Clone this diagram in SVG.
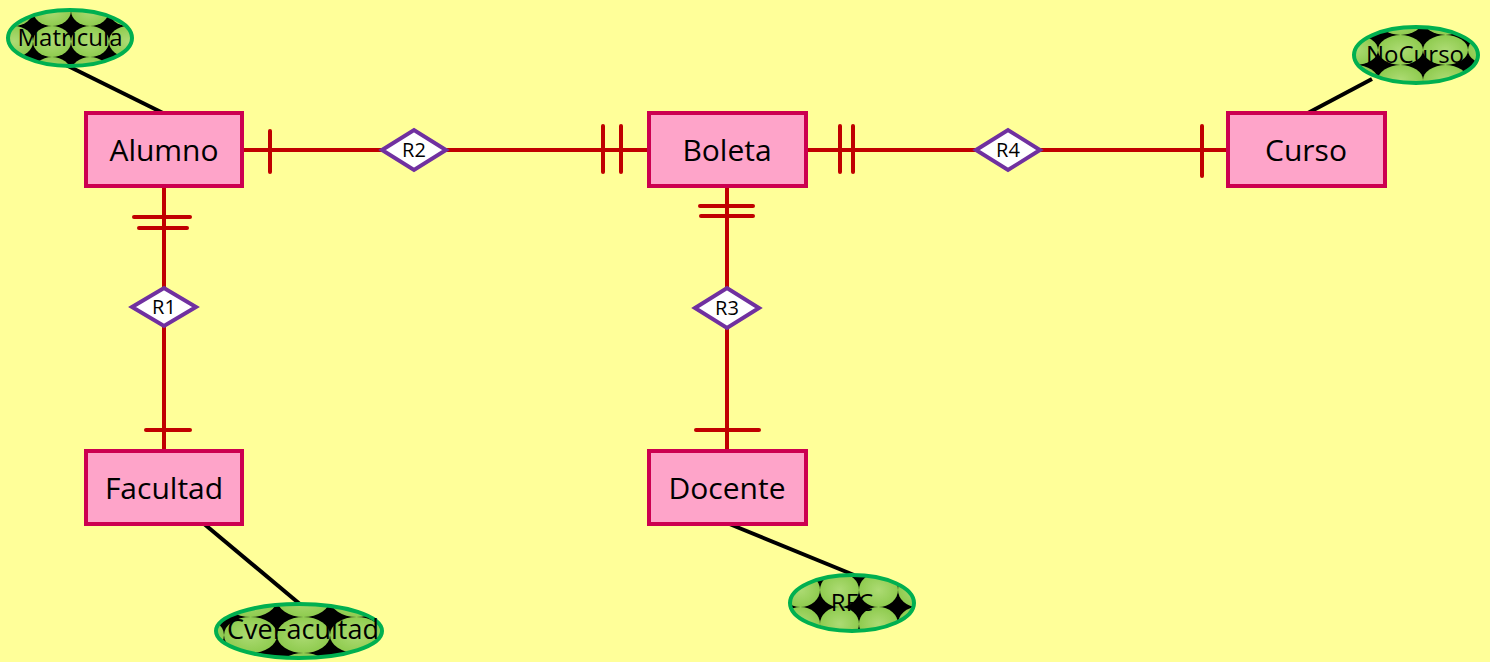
<svg xmlns="http://www.w3.org/2000/svg" width="1490" height="662" viewBox="0 0 1490 662">
<style>
.ent rect{fill:#fea4c9;stroke:#cc0050;stroke-width:4}
.ent text{font-family:"Open Sans",sans-serif;font-size:30px;fill:#000;text-anchor:middle}
.rel polygon{fill:#fff;stroke:#7030a0;stroke-width:4;stroke-linejoin:miter}
.rel text{font-family:"Open Sans",sans-serif;font-size:20px;fill:#000;text-anchor:middle}
.attr ellipse{stroke:#00b050;stroke-width:4}
.attr text{font-family:"Open Sans",sans-serif;font-size:24px;fill:#000;text-anchor:middle}
.conn line{stroke:#c00000;stroke-width:4;stroke-linecap:round}
.conn line.main{stroke-linecap:butt}
.att line{stroke:#000;stroke-width:4}
</style>
<defs>
<radialGradient id="g" cx="0.5" cy="0.5" r="0.5">
<stop offset="0" stop-color="#addb74"/>
<stop offset="1" stop-color="#8fcb4f"/>
</radialGradient>
<pattern id="pM" patternUnits="userSpaceOnUse" x="33" y="26" width="38" height="31">
<rect width="38" height="31" fill="#000"/><ellipse cx="19" cy="15.5" rx="19" ry="15.5" fill="url(#g)"/>
</pattern>
<pattern id="pN" patternUnits="userSpaceOnUse" x="1378" y="35" width="45" height="30">
<rect width="45" height="30" fill="#000"/><ellipse cx="22.5" cy="15" rx="22.5" ry="15" fill="url(#g)"/>
</pattern>
<pattern id="pC" patternUnits="userSpaceOnUse" x="224" y="617" width="53" height="36">
<rect width="53" height="36" fill="#000"/><ellipse cx="26.5" cy="18" rx="26.5" ry="18" fill="url(#g)"/>
</pattern>
<pattern id="pR" patternUnits="userSpaceOnUse" x="820" y="573" width="39" height="34">
<rect width="39" height="34" fill="#000"/><ellipse cx="19.5" cy="17" rx="19.5" ry="17" fill="url(#g)"/>
</pattern>
</defs>
<rect width="1490" height="662" fill="#ffff99"/>

<g id="attr-lines" class="att">
<line x1="66" y1="65" x2="165" y2="114"/>
<line x1="1372" y1="79" x2="1306" y2="114"/>
<line x1="203" y1="523" x2="301" y2="605"/>
<line x1="727" y1="523" x2="854" y2="575"/>
</g>

<g id="connectors" class="conn">
<line class="main" x1="242" y1="150" x2="649" y2="150"/>
<line x1="270" y1="131" x2="270" y2="172"/>
<line x1="603" y1="126" x2="603" y2="172"/>
<line x1="621" y1="126" x2="621" y2="172"/>
<line class="main" x1="806" y1="150" x2="1228" y2="150"/>
<line x1="840" y1="126" x2="840" y2="172"/>
<line x1="853" y1="126" x2="853" y2="172"/>
<line x1="1202" y1="126" x2="1202" y2="176"/>
<line class="main" x1="164" y1="186" x2="164" y2="451"/>
<line x1="134" y1="217" x2="190" y2="217"/>
<line x1="139" y1="228" x2="187" y2="228"/>
<line x1="146" y1="430" x2="190" y2="430"/>
<line class="main" x1="727" y1="186" x2="727" y2="451"/>
<line x1="700" y1="206" x2="753" y2="206"/>
<line x1="701" y1="216" x2="753" y2="216"/>
<line x1="696" y1="430" x2="759" y2="430"/>
</g>

<g id="Alumno" class="ent"><rect x="86" y="113" width="156" height="73"/><text x="164" y="161">Alumno</text></g>
<g id="Boleta" class="ent"><rect x="649" y="113" width="157" height="73"/><text x="727" y="161">Boleta</text></g>
<g id="Curso" class="ent"><rect x="1228" y="113" width="157" height="73"/><text x="1306" y="161">Curso</text></g>
<g id="Facultad" class="ent"><rect x="86" y="451" width="156" height="73"/><text x="164" y="499">Facultad</text></g>
<g id="Docente" class="ent"><rect x="649" y="451" width="157" height="73"/><text x="727" y="499">Docente</text></g>

<g id="R2" class="rel"><polygon points="382,150 414,130 446,150 414,170"/><text x="414" y="157">R2</text></g>
<g id="R4" class="rel"><polygon points="976,150 1008,130 1040,150 1008,170"/><text x="1008" y="157">R4</text></g>
<g id="R1" class="rel"><polygon points="132,307 164,288 196,307 164,326"/><text x="164" y="314">R1</text></g>
<g id="R3" class="rel"><polygon points="695,308 727,288 759,308 727,328"/><text x="727" y="315">R3</text></g>

<g id="Matricula" class="attr"><ellipse cx="70" cy="38" rx="62" ry="28" fill="url(#pM)"/><text x="70" y="46">Matricula</text></g>
<g id="NoCurso" class="attr"><ellipse cx="1416" cy="55" rx="62" ry="28" fill="url(#pN)"/><text x="1415" y="63">NoCurso</text></g>
<g id="CveFacultad" class="attr"><ellipse cx="299" cy="631" rx="83" ry="27" fill="url(#pC)"/><text x="303" y="639" style="font-size:27px">CveFacultad</text></g>
<g id="RFC" class="attr"><ellipse cx="852" cy="603" rx="62" ry="28" fill="url(#pR)"/><text x="852" y="611">RFC</text></g>
</svg>
